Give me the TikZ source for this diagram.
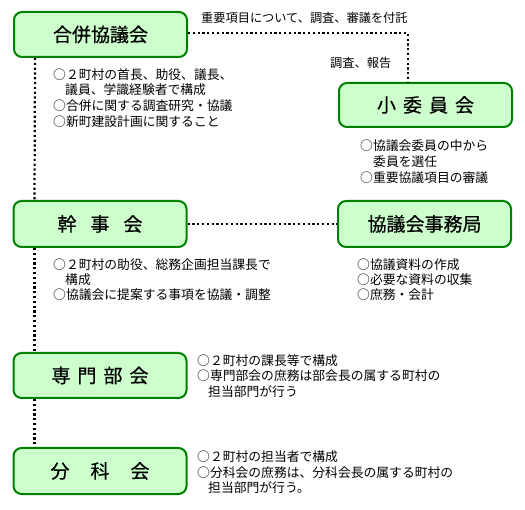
\documentclass[tikz,border=0pt]{standalone}
\usepackage{fontspec}
\newfontfamily\jp{Noto Sans CJK JP}
\newfontfamily\jpb[FakeBold=0.6]{Noto Sans CJK JP}
\definecolor{bfill}{HTML}{CCFFCC}
\definecolor{bdraw}{HTML}{008000}
\tikzset{
 orgbox/.style={draw=bdraw, fill=bfill, line width=2pt, rounded corners=8pt, minimum width=173pt, minimum height=45pt, inner sep=0pt, font=\jpb\fontsize{19}{19}\selectfont},
 dotline/.style={line width=2.2pt, dash pattern=on 2.2pt off 2.6pt, black},
 note/.style={anchor=west, inner sep=0pt, font=\jp\fontsize{12.8}{15}\selectfont},
 smallnote/.style={anchor=west, inner sep=0pt, font=\jp\fontsize{12.2}{14}\selectfont},
}
\begin{document}
\begin{tikzpicture}[x=1pt,y=-1pt]
\useasboundingbox (0,0) rectangle (525,510);
% boxes
\node[orgbox] (gappei) at (100.5,34.5) {合併協議会};
\node[orgbox, minimum height=44pt] (sho) at (425.5,105) {小\hspace{7pt}委\hspace{7pt}員\hspace{7pt}会};
\node[orgbox, minimum height=46pt] (kanji) at (100,224) {幹\hspace{14pt}事\hspace{14pt}会};
\node[orgbox, minimum height=46pt] (jimu) at (424.5,224) {協議会事務局};
\node[orgbox] (senmon) at (100,375.5) {専\hspace{7pt}門\hspace{7pt}部\hspace{7pt}会};
\node[orgbox, minimum height=46pt] (bunka) at (100,471) {分\hspace{21pt}科\hspace{21pt}会};
% connectors
\coordinate (corner) at (408,33);
\draw[dotline] (gappei.east |- corner) -- (corner) -- (corner |- sho.north);
\draw[dotline] ([xshift=22pt]gappei.south west) -- ([xshift=22pt]kanji.north west);
\draw[dotline] ([xshift=22pt]kanji.south west) -- ([xshift=22pt]senmon.north west);
\draw[dotline] ([xshift=22pt]senmon.south west) -- ([xshift=22pt]bunka.north west);
\draw[dotline] (kanji.east) -- (jimu.west);
% connector labels
\node[smallnote] (lbltop) at (201,18) {重要項目について、調査、審議を付託};
\node[smallnote] (lblrep) at (330,63) {調査、報告};
% gappei notes
\node[note] (g1) at (53,75) {○２町村の首長、助役、議長、};
\node[note] (g2) at (65,90) {議員、学識経験者で構成};
\node[note] (g3) at (53,106) {○合併に関する調査研究・協議};
\node[note] (g4) at (53,122) {○新町建設計画に関すること};
% sho notes
\node[note] (s1) at (360,146) {○協議会委員の中から};
\node[note] (s2) at (373,162) {委員を選任};
\node[note] (s3) at (360,178) {○重要協議項目の審議};
% kanji notes
\node[note] (k1) at (53,265) {○２町村の助役、総務企画担当課長で};
\node[note] (k2) at (65,280) {構成};
\node[note] (k3) at (53,295) {○協議会に提案する事項を協議・調整};
% jimu notes
\node[note] (j1) at (357,265) {○協議資料の作成};
\node[note] (j2) at (357,280) {○必要な資料の収集};
\node[note] (j3) at (357,295) {○庶務・会計};
% senmon notes
\node[note] (m1) at (197,361) {○２町村の課長等で構成};
\node[note] (m2) at (197,376) {○専門部会の庶務は部会長の属する町村の};
\node[note] (m3) at (208,392) {担当部門が行う};
% bunka notes
\node[note] (b1) at (197,457) {○２町村の担当者で構成};
\node[note] (b2) at (197,473) {○分科会の庶務は、分科会長の属する町村の};
\node[note] (b3) at (208,488) {担当部門が行う。};
\end{tikzpicture}
\end{document}
